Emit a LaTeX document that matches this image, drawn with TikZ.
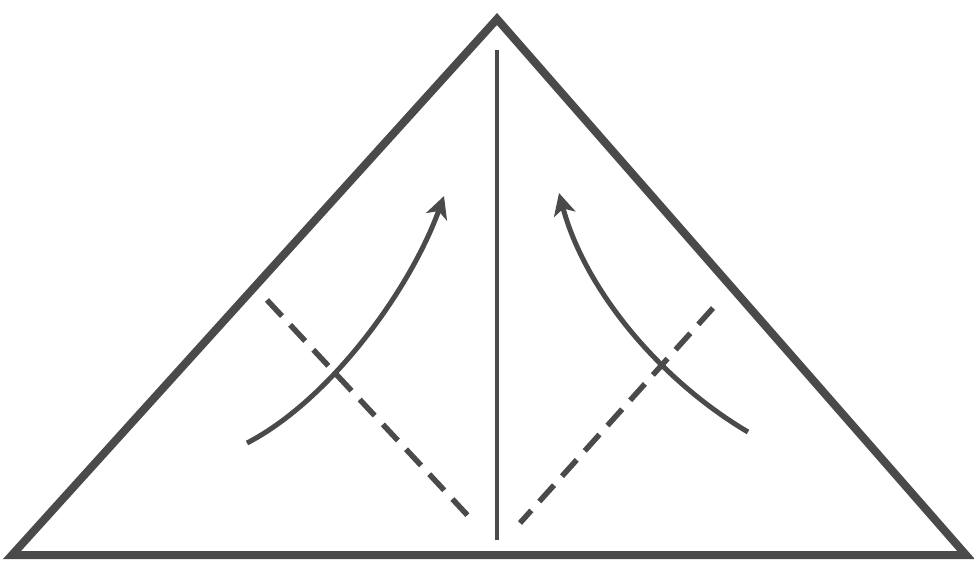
\documentclass[tikz,border=0pt]{standalone}
\usetikzlibrary{arrows.meta}
\definecolor{ink}{HTML}{4a4a4a}
\begin{document}
\begin{tikzpicture}[x=1pt,y=-1pt,
  edge/.style={draw=ink,line width=8pt,line join=miter},
  crease/.style={draw=ink,line width=3.5pt},
  valley/.style={draw=ink,line width=5.5pt,dash pattern=on 22pt off 12pt},
  fold/.style={draw=ink,line width=5pt,-{Stealth[length=22pt,width=22pt,inset=6pt]}}]
\useasboundingbox (0,0) rectangle (974,566);
\coordinate (A) at (497,19);
\coordinate (L) at (12,555);
\coordinate (R) at (966,555);
\draw[edge] (A) -- (R) -- (L) -- cycle;
\coordinate (vt) at (497,50);
\coordinate (vb) at (497,540);
\draw[crease] (vt) -- (vb);
\coordinate (d1s) at (267,300);
\coordinate (d1e) at (471,519);
\coordinate (d2s) at (713,308);
\coordinate (d2e) at (520,523);
\draw[valley] (d1s) -- (d1e);
\draw[valley] (d2s) -- (d2e);
\coordinate (a1s) at (247,443);
\coordinate (a1e) at (444,196);
\coordinate (a2s) at (748,432);
\coordinate (a2e) at (559,193);
\draw[fold] (a1s) .. controls (330,400) and (410,290) .. (a1e);
\draw[fold] (a2s) .. controls (660,380) and (585,290) .. (a2e);
\end{tikzpicture}
\end{document}
